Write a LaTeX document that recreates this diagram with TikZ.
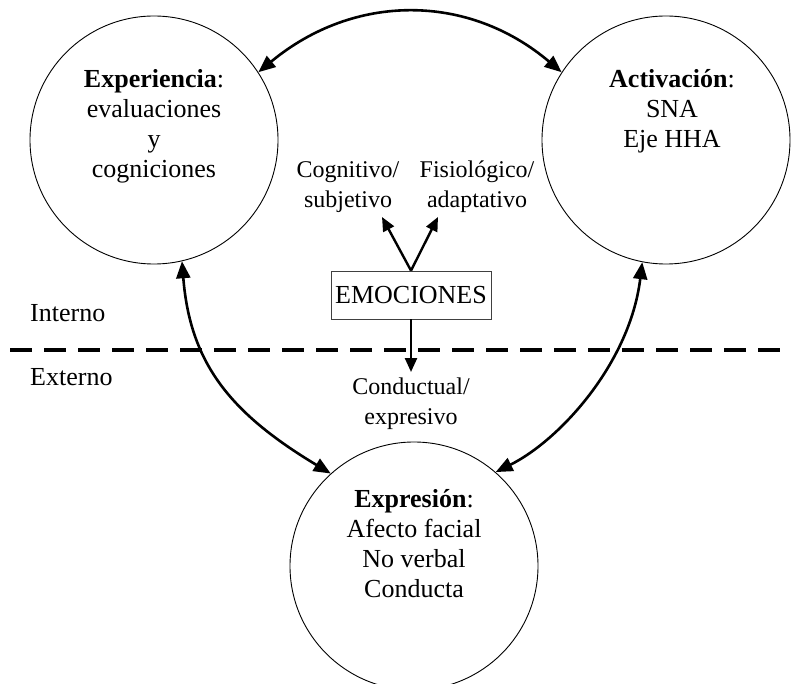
\documentclass[tikz,border=0pt]{standalone}
\usepackage{fontspec}
\setmainfont{Liberation Serif}
\usetikzlibrary{arrows.meta}

\tikzset{
  bigtip/.tip={Triangle[length=17pt,width=14pt]},
  smalltip/.tip={Triangle[length=14pt,width=12pt]}
}

\begin{document}
\begin{tikzpicture}[x=1pt,y=-1pt,
  ring/.style={circle, draw, line width=0.9pt, minimum size=248pt, inner sep=0pt},
  bigtext/.style={font=\fontsize{26}{30}\selectfont, align=center, inner sep=0pt},
  smalltext/.style={font=\fontsize{24}{30}\selectfont, align=center, inner sep=0pt},
  link/.style={line width=2.6pt, {bigtip}-{bigtip}},
  shortlink/.style={line width=2.4pt, -{smalltip}},
  emobox/.style={draw=black!75, line width=0.8pt, minimum width=160pt, minimum height=48pt,
    inner sep=0pt, font=\fontsize{26}{30}\selectfont}]
\useasboundingbox (0,0) rectangle (792,684);
\clip (0,0) rectangle (792,684);

% the three components
\node[ring] (exp) at (154,140) {};
\node[ring] (act) at (666,140) {};
\node[ring] (expr) at (414,566) {};

\node[bigtext, anchor=north] (expt) at (154,69) {\textbf{Experiencia}:\\evaluaciones\\y\\cogniciones};
\node[bigtext, anchor=north] (actt) at (672,69) {\textbf{Activación}:\\SNA\\Eje HHA};
\node[bigtext, anchor=north] (exprt) at (414,489) {\textbf{Expresión}:\\Afecto facial\\No verbal\\Conducta};

% internal / external boundary
\coordinate (dl) at (10,350);
\coordinate (dr) at (792,350);
\draw[line width=4pt, dash pattern=on 22pt off 12pt] (dl) -- (dr);
\node[bigtext, anchor=base west] (int) at (30,322) {Interno};
\node[bigtext, anchor=base west] (ext) at (30,385) {Externo};

% central box and its three outputs
\node[emobox] (emo) at (411,295) {EMOCIONES};
\node[smalltext, anchor=north] (cog) at (348,161) {Cognitivo/\\subjetivo};
\node[smalltext, anchor=north] (fis) at (477,161) {Fisiológico/\\adaptativo};
\node[smalltext, anchor=north] (con) at (411,378) {Conductual/\\expresivo};
\coordinate (tipL) at (382,217);
\coordinate (tipR) at (438,217);
\coordinate (tipD) at (411,372);
\draw[shortlink] (emo.north) -- (tipL);
\draw[shortlink] (emo.north) -- (tipR);
\draw[shortlink] (emo.south) -- (tipD);

% reciprocal links between components
\draw[link] (exp.33) .. controls (354,-7) and (468,-7) .. (act.147);
\draw[link] (exp.-77) .. controls (190,363) and (230,413) .. (expr.132);
\draw[link] (act.-101) .. controls (630,363) and (560,440) .. (expr.49);
\end{tikzpicture}
\end{document}
